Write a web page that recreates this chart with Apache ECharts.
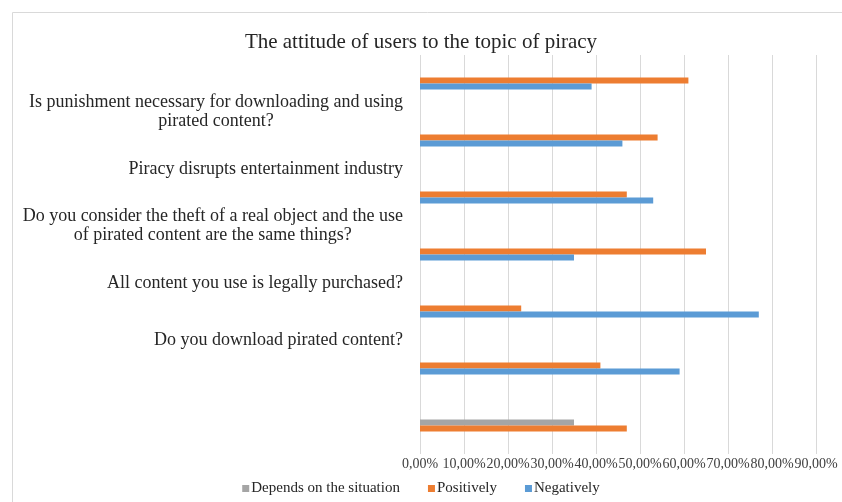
<!DOCTYPE html>
<html>
<head>
<meta charset="utf-8">
<script src="https://cdn.jsdelivr.net/npm/echarts@6/dist/echarts.min.js"></script>
<style>
html, body { margin: 0; padding: 0; background: #fff; }
#chart { width: 842px; height: 502px; }
</style>
</head>
<body>
<div id="chart"></div>
<script>
// questions sit between the bar rows in the original chart
const questions = [
    'Is punishment necessary for downloading and using\npirated content?',
    'Piracy disrupts entertainment industry',
    'Do you consider the theft of a real object and the use\nof pirated content are the same things?',
    'All content you use is legally purchased?',
    'Do you download pirated content?'
]
const rows = ['r1', 'r2', 'r3', 'r4', 'r5', 'r6', 'r7']
const positively = [61, 54, 47, 65, 23, 41, 47]
const negatively = [39, 46, 53, 35, 77, 59, null]
const depends = [null, null, null, null, null, null, 35]

const colors = { depends: '#a5a5a5', positively: '#ed7d31', negatively: '#5b9bd5' }
const serif = '"Liberation Serif", "Times New Roman", serif'
const textColor = '#262626'

// top slot: positively (or depends in the last row), bottom slot: negatively (or positively)
const posTop = positively.map((v, i) => depends[i] == null ? v : null)
const posBottom = positively.map((v, i) => depends[i] == null ? null : v)

const bar = (name, data, stack, color) => ({
    name,
    type: 'bar',
    stack,
    data,
    barWidth: 6,
    barGap: '0%',
    itemStyle: { color }
})

const chart = echarts.init(document.getElementById('chart'))
chart.setOption({
    animation: false,
    textStyle: { fontFamily: serif },
    title: {
        text: 'The attitude of users to the topic of piracy',
        left: 'center',
        top: 27,
        textStyle: { fontFamily: serif, fontSize: 21, fontWeight: 'normal', color: textColor }
    },
    graphic: [{
        type: 'rect',
        shape: { x: 12.5, y: 12.5, width: 840, height: 500 },
        style: { fill: 'none', stroke: '#d9d9d9', lineWidth: 1 },
        silent: true
    }],
    legend: {
        bottom: 1,
        icon: 'rect',
        itemWidth: 7,
        itemHeight: 7,
        itemGap: 28,
        data: ['Depends on the situation', 'Positively', 'Negatively'],
        textStyle: { fontFamily: serif, fontSize: 15, color: textColor, padding: [0, 0, 0, -3] }
    },
    grid: { left: 420, right: 26, top: 55, bottom: 48, containLabel: false },
    xAxis: {
        type: 'value',
        min: 0,
        max: 90,
        interval: 10,
        axisLine: { show: false },
        axisTick: { show: false },
        splitLine: { lineStyle: { color: '#d9d9d9' } },
        axisLabel: {
            margin: 3,
            fontFamily: serif,
            fontSize: 14,
            color: '#404040',
            formatter: v => v.toFixed(2).replace('.', ',') + '%'
        }
    },
    yAxis: [{
        type: 'category',
        inverse: true,
        data: rows,
        axisLine: { show: false },
        axisTick: { show: false },
        axisLabel: { show: false }
    }, {
        type: 'category',
        inverse: true,
        boundaryGap: false,
        position: 'left',
        data: ['', ...questions, '', ''],
        axisLine: { show: false },
        axisTick: { show: false },
        splitLine: { show: false },
        axisLabel: {
            interval: 0,
            margin: 17,
            fontFamily: serif,
            fontSize: 18,
            lineHeight: 19,
            color: textColor,
            formatter: v => v.split('\n').map(s => '{c|' + s + '}').join('\n'),
            rich: { c: { align: 'center', fontFamily: serif, fontSize: 18, lineHeight: 19, color: textColor } }
        }
    }],
    series: [
        bar('Depends on the situation', depends, 'top', colors.depends),
        bar('Positively', posTop, 'top', colors.positively),
        bar('Positively', posBottom, 'bottom', colors.positively),
        bar('Negatively', negatively, 'bottom', colors.negatively)
    ]
})
</script>
</body>
</html>
